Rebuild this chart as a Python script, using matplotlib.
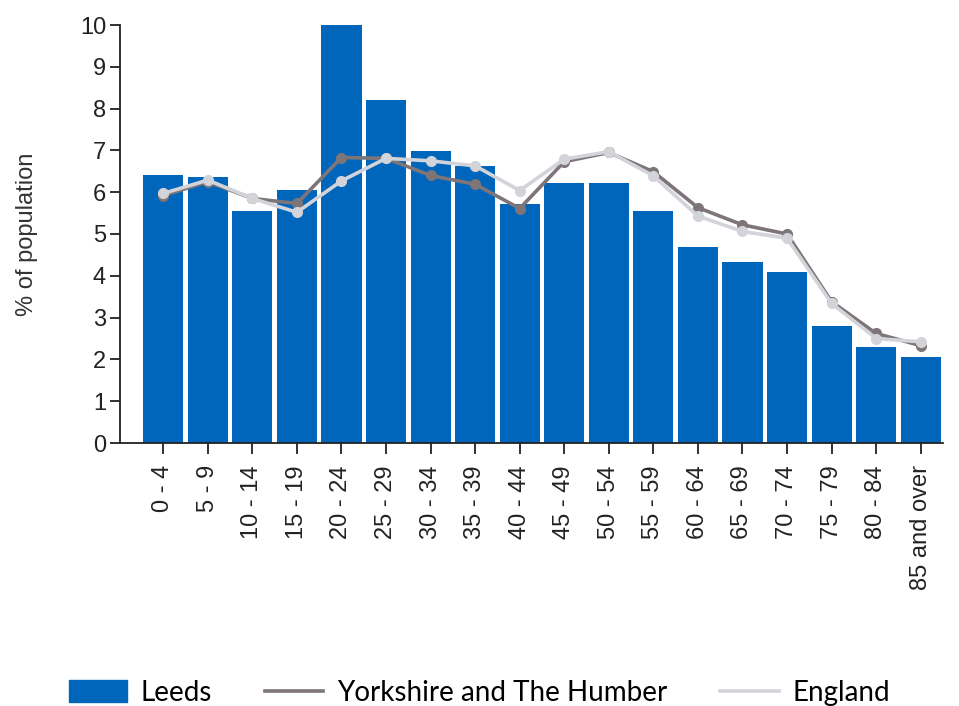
import matplotlib
matplotlib.use('Agg')
from matplotlib import pyplot as plt
from matplotlib.patches import Patch
from matplotlib.lines import Line2D

ages = ['0 - 4', '5 - 9', '10 - 14', '15 - 19', '20 - 24', '25 - 29', '30 - 34',
        '35 - 39', '40 - 44', '45 - 49', '50 - 54', '55 - 59', '60 - 64',
        '65 - 69', '70 - 74', '75 - 79', '80 - 84', '85 and over']
leeds = [6.42, 6.36, 5.56, 6.06, 10.0, 8.2, 6.98, 6.63, 5.71, 6.22, 6.22,
         5.56, 4.7, 4.33, 4.08, 2.81, 2.3, 2.05]
yorkshire = [5.92, 6.25, 5.85, 5.73, 6.83, 6.81, 6.4, 6.19, 5.61, 6.73, 6.95,
             6.49, 5.63, 5.22, 5.0, 3.38, 2.62, 2.33]
england = [5.97, 6.29, 5.85, 5.52, 6.27, 6.81, 6.75, 6.63, 6.04, 6.79, 6.97,
           6.39, 5.43, 5.06, 4.9, 3.34, 2.5, 2.42]

bar_col = '#0066bb'
york_col = '#7d7577'
eng_col = '#d3d3da'

plt.rcParams['font.family'] = ['Liberation Sans', 'DejaVu Sans']

fig = plt.figure(figsize=(9.59, 7.06), dpi=100)
ax = fig.add_axes([120 / 959, 1 - 443 / 706, 823 / 959, 418 / 706])

x = list(range(len(ages)))
ax.bar(x, leeds, width=0.9, color=bar_col, zorder=2)
ax.plot(x, yorkshire, color=york_col, lw=2.6, marker='o', ms=7, zorder=3)
ax.plot(x, england, color=eng_col, lw=2.6, marker='o', ms=7, zorder=4)

ax.set_xlim(-0.97, 17.5)
ax.set_ylim(0, 10)
ax.set_yticks(range(11))
ax.set_xticks(x)
ax.set_xticklabels(ages, rotation=90)
ax.tick_params(axis='both', labelsize=17, colors='#222222', width=1.3)
ax.tick_params(axis='x', length=8, pad=8)
ax.tick_params(axis='y', length=7, pad=3)
for s in ['top', 'right']:
    ax.spines[s].set_visible(False)
for s in ['left', 'bottom']:
    ax.spines[s].set_linewidth(1.3)
    ax.spines[s].set_color('#222222')
ax.set_ylabel('% of population', fontsize=17, color='#333333', labelpad=30)

handles = [Patch(color=bar_col),
           Line2D([], [], color=york_col, lw=2.6),
           Line2D([], [], color=eng_col, lw=2.6)]
labels = ['Leeds', 'Yorkshire and The Humber', 'England']
fig.legend(handles, labels, loc='center', bbox_to_anchor=(0.5, 1 - 693 / 706),
           ncol=3, frameon=False, prop={'family': 'Lato', 'size': 20},
           handlelength=2.1, handleheight=0.83, columnspacing=1.9,
           handletextpad=0.5)

plt.savefig('out.png')
